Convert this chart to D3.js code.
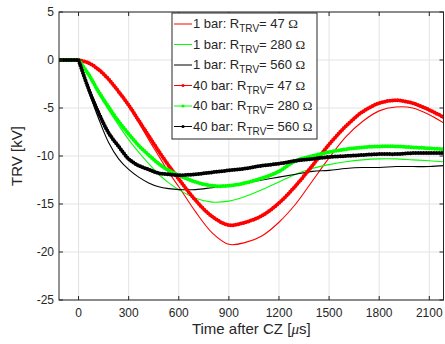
<!DOCTYPE html>
<html>
<head>
<meta charset="utf-8">
<script src="https://cdn.jsdelivr.net/npm/d3@7"></script>
<style>
  body { margin: 0; background: #fff; }
  text { font-family: "Liberation Sans", Arial, sans-serif; fill: #262626; }
</style>
</head>
<body>
<svg id="viz"></svg>
<script>
const width = 445, height = 344;
const margin = {top: 12, right: 1.5, bottom: 44, left: 59};

// time axis (µs) and TRV values (kV)
const time = [-120, 0, 60, 120, 180, 240, 300, 360, 420, 480, 540, 600, 700, 800, 900, 1000,
  1100, 1200, 1300, 1400, 1500, 1600, 1700, 1800, 1900, 2000, 2100, 2190];

const bar1_47 = [0, 0, -0.3, -1.0, -2.0, -3.3, -4.8, -6.5, -8.3, -10.0, -11.7, -13.2, -15.8, -18.0,
  -19.2, -19.0, -18.3, -16.9, -15.0, -12.6, -10.2, -8.0, -6.4, -5.3, -4.9, -5.0, -5.7, -6.6];
const bar1_280 = [0, 0, -1.6, -3.5, -5.2, -6.8, -8.3, -9.6, -10.8, -11.9, -12.8, -13.5, -14.4, -14.8,
  -14.7, -14.2, -13.5, -12.7, -11.9, -11.3, -10.9, -10.6, -10.4, -10.3, -10.3, -10.4, -10.5, -10.6];
const bar1_560 = [0, 0, -3.2, -6.1, -8.6, -10.3, -11.4, -12.2, -12.8, -13.2, -13.4, -13.5, -13.5, -13.3,
  -13.1, -12.8, -12.5, -12.2, -11.9, -11.6, -11.5, -11.3, -11.2, -11.2, -11.1, -11.1, -11.1, -11.0];
const bar40_47 = [0, 0, -0.3, -1.0, -2.0, -3.3, -4.7, -6.3, -7.9, -9.5, -11.0, -12.4, -14.6, -16.3,
  -17.2, -16.9, -16.2, -14.9, -13.1, -11.0, -8.8, -6.9, -5.4, -4.5, -4.2, -4.5, -5.2, -6.0];
const bar40_280 = [0, 0, -1.5, -3.3, -4.9, -6.4, -7.7, -8.9, -9.9, -10.8, -11.5, -12.0, -12.7, -13.1,
  -13.1, -12.8, -12.3, -11.6, -10.5, -10.0, -9.6, -9.3, -9.1, -9.0, -9.0, -9.1, -9.2, -9.3];
const bar40_560 = [0, 0, -3.0, -5.5, -7.6, -9.0, -10.3, -11.0, -11.4, -11.8, -11.9, -12.0, -11.9, -11.7,
  -11.5, -11.3, -11.0, -10.8, -10.5, -10.3, -10.1, -10.0, -9.9, -9.8, -9.8, -9.7, -9.7, -9.7];

const xTicks = [0, 300, 600, 900, 1200, 1500, 1800, 2100];
const yTicks = [5, 0, -5, -10, -15, -20, -25];

const series = [
  {p: "1 bar", r: "47", color: "#ff0000", values: bar1_47, dots: false},
  {p: "1 bar", r: "280", color: "#00ff00", values: bar1_280, dots: false},
  {p: "1 bar", r: "560", color: "#000000", values: bar1_560, dots: false},
  {p: "40 bar", r: "47", color: "#ff0000", values: bar40_47, dots: true},
  {p: "40 bar", r: "280", color: "#00ff00", values: bar40_280, dots: true},
  {p: "40 bar", r: "560", color: "#000000", values: bar40_560, dots: true}
];

const svg = d3.select("#viz").attr("width", width).attr("height", height);
const x = d3.scaleLinear().domain([-117, 2185]).range([margin.left, width - margin.right]);
const y = d3.scaleLinear().domain([-25, 5]).range([height - margin.bottom, margin.top]);
const x0 = x.range()[0], x1 = x.range()[1], y0 = y.range()[1], y1 = y.range()[0];

svg.append("rect").attr("width", width).attr("height", height).attr("fill", "#fff");

// grid
const grid = svg.append("g").attr("stroke", "#e3e3e3").attr("stroke-width", 1);
xTicks.forEach(t => grid.append("line").attr("x1", x(t)).attr("x2", x(t)).attr("y1", y0).attr("y2", y1));
yTicks.forEach(v => grid.append("line").attr("x1", x0).attr("x2", x1).attr("y1", y(v)).attr("y2", y(v)));

svg.append("clipPath").attr("id", "clip")
  .append("rect").attr("x", x0).attr("y", y0).attr("width", x1 - x0).attr("height", y1 - y0);

const line = d3.line().curve(d3.curveCatmullRom.alpha(0.5))
  .x(d => x(d[0])).y(d => y(d[1]));

function pathFor(s) {
  const pts = time.map((t, i) => [t, s.values[i]]);
  // flat part before CZ, then the curve
  return "M" + x(pts[0][0]) + "," + y(pts[0][1]) + "L" + line(pts.slice(1)).slice(1);
}

const plot = svg.append("g").attr("clip-path", "url(#clip)");
series.forEach(s => {
  const d = pathFor(s);
  plot.append("path").attr("d", d).attr("fill", "none")
    .attr("stroke", s.color).attr("stroke-width", s.dots ? 2 : 1.1);
  if (s.dots) {
    plot.append("path").attr("d", d).attr("fill", "none")
      .attr("stroke", s.color).attr("stroke-width", 4)
      .attr("stroke-linecap", "round").attr("stroke-dasharray", "0 2.6");
  }
});

// axes box with inward ticks
const ax = svg.append("g").attr("stroke", "#262626").attr("stroke-width", 1).attr("fill", "none");
ax.append("rect").attr("x", x0).attr("y", y0).attr("width", x1 - x0).attr("height", y1 - y0);
xTicks.forEach(t => {
  ax.append("line").attr("x1", x(t)).attr("x2", x(t)).attr("y1", y1).attr("y2", y1 - 4);
  ax.append("line").attr("x1", x(t)).attr("x2", x(t)).attr("y1", y0).attr("y2", y0 + 4);
});
yTicks.forEach(v => {
  ax.append("line").attr("x1", x0).attr("x2", x0 + 4).attr("y1", y(v)).attr("y2", y(v));
  ax.append("line").attr("x1", x1).attr("x2", x1 - 4).attr("y1", y(v)).attr("y2", y(v));
});

svg.append("g").selectAll("text").data(xTicks).join("text")
  .attr("x", d => x(d)).attr("y", y1 + 17).attr("text-anchor", "middle")
  .attr("font-size", 12).text(d => d);
svg.append("g").selectAll("text").data(yTicks).join("text")
  .attr("x", x0 - 5).attr("y", d => y(d) + 4.3).attr("text-anchor", "end")
  .attr("font-size", 12).text(d => d);

// axis labels
const xl = svg.append("text").attr("x", (x0 + x1) / 2).attr("y", y1 + 34)
  .attr("text-anchor", "middle").attr("font-size", 15);
xl.append("tspan").text("Time after CZ [");
xl.append("tspan").attr("font-style", "italic").attr("font-family", "Liberation Serif, serif").text("\u03bc");
xl.append("tspan").text("s]");

svg.append("text").attr("transform", `translate(22,${(y0 + y1) / 2}) rotate(-90)`)
  .attr("text-anchor", "middle").attr("font-size", 15).text("TRV [kV]");

// legend
const lg = svg.append("g").attr("transform", "translate(172,13)");
lg.append("rect").attr("width", 145).attr("height", 126)
  .attr("fill", "#fff").attr("stroke", "#262626").attr("stroke-width", 1);
series.forEach((s, i) => {
  const row = lg.append("g").attr("transform", `translate(0,${11 + i * 20.5})`);
  row.append("line").attr("x1", 2).attr("x2", 20).attr("stroke", s.color).attr("stroke-width", 1);
  if (s.dots) row.append("circle").attr("cx", 11).attr("r", 1.6).attr("fill", s.color);
  const t = row.append("text").attr("x", 21).attr("y", 4).attr("font-size", 13).attr("fill", "#000");
  t.append("tspan").text(s.p + ": R");
  t.append("tspan").attr("font-size", 10).attr("dy", 4).text("TRV");
  t.append("tspan").attr("dy", -4).text("= " + s.r + " ");
  t.append("tspan").attr("font-family", "Liberation Serif, serif").text("\u03a9");
});
</script>
</body>
</html>
